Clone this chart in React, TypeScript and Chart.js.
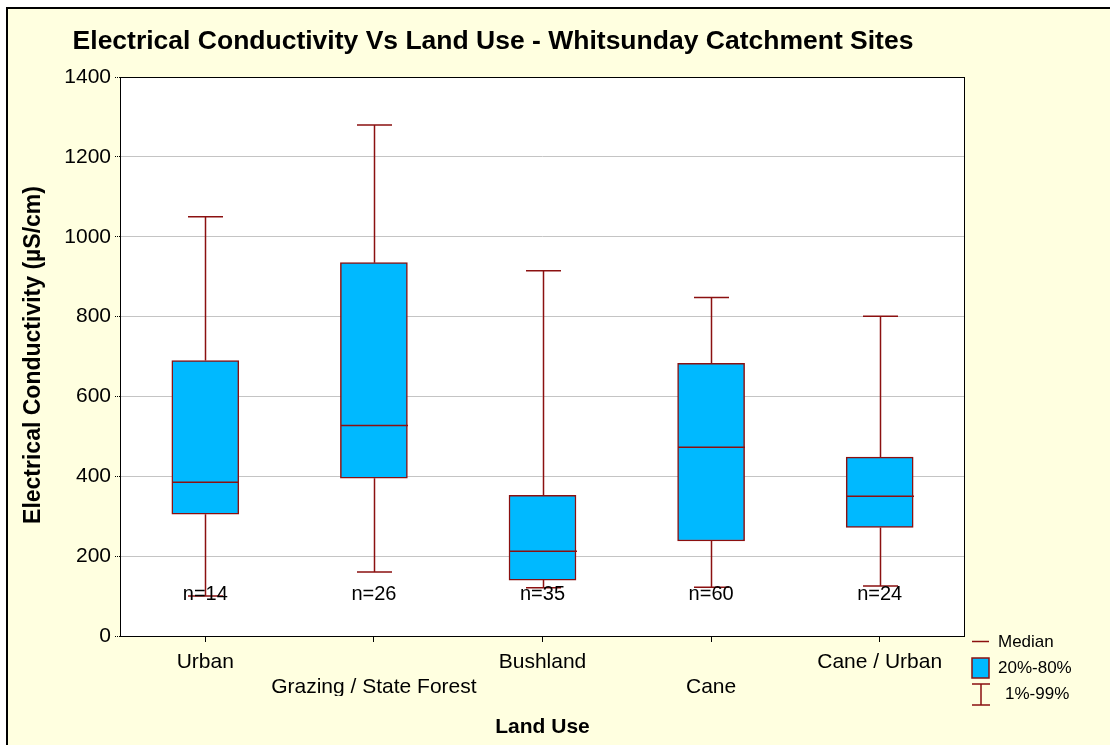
import React, { useEffect, useRef } from "react";
import { Chart, registerables } from "chart.js";

Chart.register(...registerables);

const categories: (string | string[])[] = [
  "Urban",
  ["", "Grazing / State Forest"],
  "Bushland",
  ["", "Cane"],
  "Cane / Urban",
];
const p01: number[] = [100, 160, 121, 122, 125];
const p20: number[] = [305, 395, 140, 238, 272];
const median: number[] = [385, 527, 212, 473, 350];
const p80: number[] = [690, 935, 352, 683, 448];
const p99: number[] = [1050, 1280, 915, 848, 801];
const counts: string[] = ["n=14", "n=26", "n=35", "n=60", "n=24"];
const yTicks: number[] = [0, 200, 400, 600, 800, 1000, 1200, 1400];
const legendLabels: string[] = ["Median", "20%-80%", "1%-99%"];

const FONT = "'Liberation Sans', Arial, sans-serif";
const RED = "#8B1010";
const BLUE = "#00B9FF";
const BG = "#FFFFE0";

export default function App() {
  const ref = useRef<HTMLCanvasElement>(null);
  useEffect(() => {
    document.body.style.margin = "0";
    const canvas = ref.current!;
    const plugin = {
      id: "custom",
      beforeDraw(chart: any) {
        const { ctx, chartArea: a } = chart;
        ctx.save();
        ctx.fillStyle = "#ffffff";
        ctx.fillRect(0, 0, chart.width, chart.height);
        ctx.fillStyle = BG;
        ctx.fillRect(7, 8, chart.width, chart.height);
        ctx.strokeStyle = "#000";
        ctx.lineWidth = 2;
        ctx.beginPath();
        ctx.moveTo(7, chart.height);
        ctx.lineTo(7, 8);
        ctx.lineTo(chart.width, 8);
        ctx.stroke();
        ctx.fillStyle = "#ffffff";
        ctx.fillRect(a.left, a.top, a.right - a.left, a.bottom - a.top);
        ctx.restore();
      },
      afterDatasetsDraw(chart: any) {
        const { ctx, chartArea: a } = chart;
        const x = chart.scales.x;
        const y = chart.scales.y;
        ctx.save();
        ctx.strokeStyle = RED;
        ctx.lineWidth = 1.5;
        const half = 33.5;
        const cap = 17.5;
        for (let i = 0; i < categories.length; i++) {
          const cx = Math.round(x.getPixelForValue(i)) + 0.5;
          const yLo = y.getPixelForValue(p01[i]);
          const y20 = y.getPixelForValue(p20[i]);
          const yMed = y.getPixelForValue(median[i]);
          const y80 = y.getPixelForValue(p80[i]);
          const yHi = y.getPixelForValue(p99[i]);
          ctx.beginPath();
          ctx.moveTo(cx, y80);
          ctx.lineTo(cx, yHi);
          ctx.moveTo(cx - cap, yHi);
          ctx.lineTo(cx + cap, yHi);
          ctx.moveTo(cx, y20);
          ctx.lineTo(cx, yLo);
          ctx.moveTo(cx - cap, yLo);
          ctx.lineTo(cx + cap, yLo);
          ctx.moveTo(cx - half, yMed);
          ctx.lineTo(cx + half, yMed);
          ctx.stroke();
        }
        // n labels
        ctx.fillStyle = "#000";
        ctx.font = `20px ${FONT}`;
        ctx.textAlign = "center";
        ctx.textBaseline = "middle";
        for (let i = 0; i < categories.length; i++) {
          ctx.fillText(counts[i], x.getPixelForValue(i), y.getPixelForValue(105));
        }
        // plot frame
        ctx.strokeStyle = "#000";
        ctx.lineWidth = 1;
        ctx.strokeRect(Math.round(a.left) - 0.5, Math.round(a.top) + 0.5, Math.round(a.right - a.left) + 1, Math.round(a.bottom - a.top));
        ctx.restore();
      },
      afterDraw(chart: any) {
        const { ctx, chartArea: a } = chart;
        ctx.save();
        ctx.fillStyle = "#000";
        ctx.textBaseline = "middle";
        // title
        ctx.font = `bold 26.5px ${FONT}`;
        ctx.textAlign = "center";
        ctx.fillText("Electrical Conductivity Vs Land Use - Whitsunday Catchment Sites", 493, 42);
        // x title
        ctx.font = `bold 21px ${FONT}`;
        ctx.fillText("Land Use", (a.left + a.right) / 2, 727);
        // y title
        ctx.save();
        ctx.translate(34, 355);
        ctx.rotate(-Math.PI / 2);
        ctx.font = `bold 23px ${FONT}`;
        ctx.fillText("Electrical Conductivity (µS/cm)", 0, 0);
        ctx.restore();
        // legend
        ctx.strokeStyle = RED;
        ctx.lineWidth = 1.5;
        ctx.beginPath();
        ctx.moveTo(972, 641.5);
        ctx.lineTo(989, 641.5);
        ctx.stroke();
        ctx.fillStyle = BLUE;
        ctx.fillRect(972, 658, 17, 20);
        ctx.strokeRect(972, 658, 17, 20);
        ctx.beginPath();
        ctx.moveTo(972, 684);
        ctx.lineTo(990, 684);
        ctx.moveTo(981, 684);
        ctx.lineTo(981, 705);
        ctx.moveTo(972, 705);
        ctx.lineTo(990, 705);
        ctx.stroke();
        ctx.fillStyle = "#000";
        ctx.textAlign = "left";
        ctx.font = `17px ${FONT}`;
        ctx.fillText(legendLabels[0], 998, 642);
        ctx.fillText(legendLabels[1], 998, 668);
        ctx.fillText(legendLabels[2], 1005, 694);
        ctx.restore();
      },
    };
    const chart = new Chart(canvas, {
      type: "bar",
      data: {
        labels: categories as any,
        datasets: [
          {
            data: p20.map((v, i) => [v, p80[i]]) as any,
            backgroundColor: BLUE,
            borderColor: RED,
            borderWidth: 1.5,
            borderSkipped: false,
            barThickness: 67,
          },
        ],
      },
      options: {
        animation: false,
        responsive: false,
        layout: { padding: { left: 0, top: 77, right: 146, bottom: 49 } },
        plugins: { legend: { display: false }, tooltip: { enabled: false }, title: { display: false } },
        scales: {
          x: {
            type: "category",
            grid: { drawOnChartArea: false, offset: false, tickLength: 6, color: "#000", drawTicks: true },
            border: { display: false },
            ticks: {
              color: "#000",
              font: { family: FONT, size: 21, lineHeight: 1.19 },
              padding: 8,
              maxRotation: 0,
              autoSkip: false,
            },
            afterFit: (s: any) => {
              s.height = 60;
            },
          },
          y: {
            min: 0,
            max: 1400,
            afterBuildTicks: (s: any) => {
              s.ticks = yTicks.map((v) => ({ value: v }));
            },
            grid: {
              color: "#c4c4c4",
              borderDash: [1, 1],
              tickLength: 6,
              tickColor: "#000",
              tickBorderDash: [1, 1],
            } as any,
            border: { display: false },
            ticks: {
              color: "#000",
              font: { family: FONT, size: 21 },
              padding: 4,
              callback: (v: any) => String(v),
            },
            afterFit: (s: any) => {
              s.width = 121;
            },
          },
        },
      },
      plugins: [plugin],
    });
    return () => chart.destroy();
  }, []);
  return (
    <div style={{ width: 1110, height: 745 }}>
      <canvas ref={ref} width={1110} height={745} />
    </div>
  );
}
